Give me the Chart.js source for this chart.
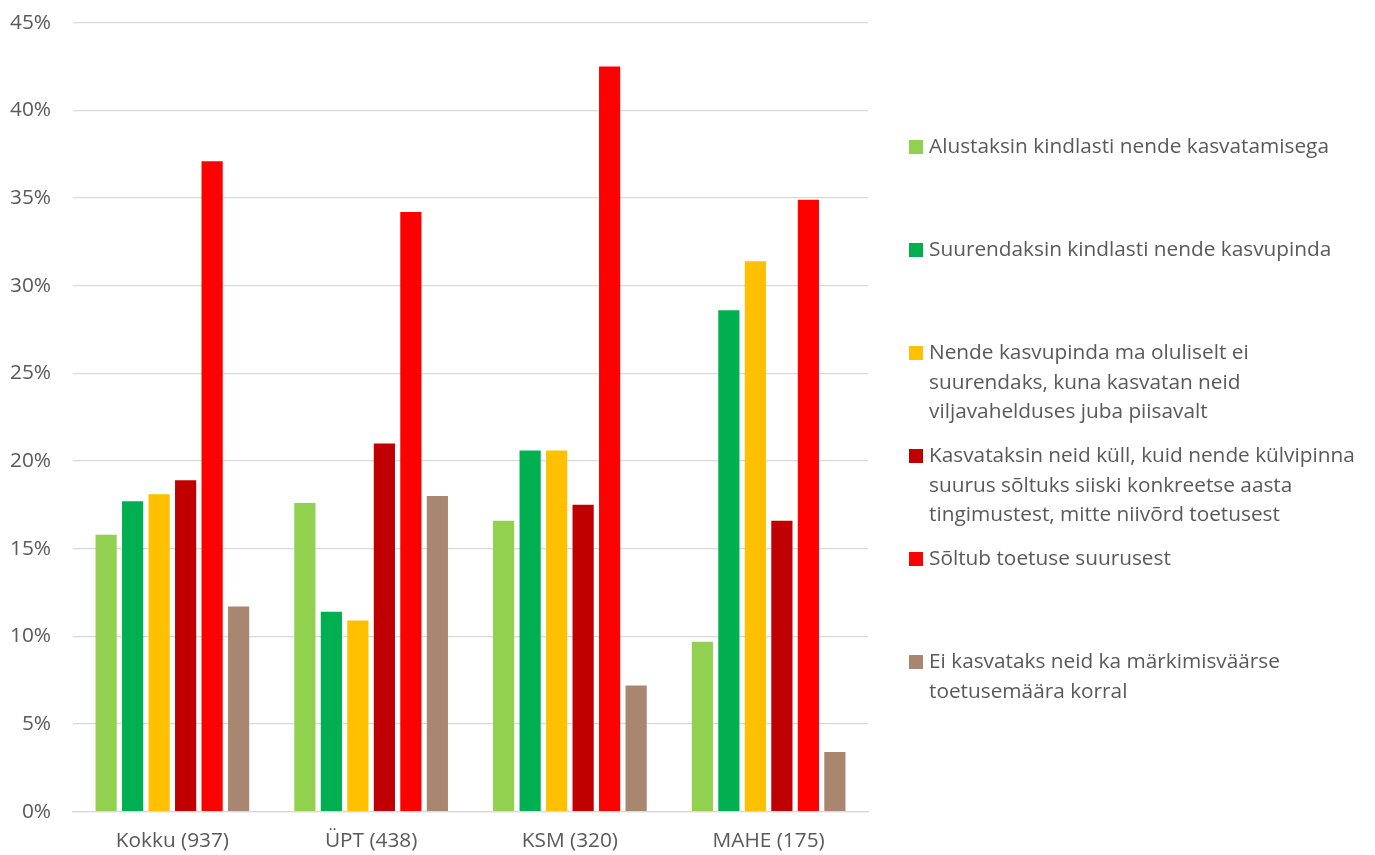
<!DOCTYPE html>
<html lang="et">
<head>
<meta charset="utf-8">
<title>Kasvatamise kavatsus sõltuvalt toetusest</title>
<script src="https://cdn.jsdelivr.net/npm/chart.js@4.4.1/dist/chart.umd.min.js"></script>
<style>
  html, body { margin: 0; padding: 0; background: #ffffff; }
  #wrap { width: 1375px; height: 855px; }
</style>
</head>
<body>
<div id="wrap"><canvas id="chart" width="1375" height="855"></canvas></div>
<script>
// Respondentide rühmad (vastajate arv sulgudes)
const categories = ['Kokku (937)', 'ÜPT (438)', 'KSM (320)', 'MAHE (175)'];

// Vastusevariandid, legendis ridadeks jaotatud
const seriesNames = [
  ['Alustaksin kindlasti nende kasvatamisega'],
  ['Suurendaksin kindlasti nende kasvupinda'],
  ['Nende kasvupinda ma oluliselt ei', 'suurendaks, kuna kasvatan neid', 'viljavahelduses juba piisavalt'],
  ['Kasvataksin neid küll, kuid nende külvipinna', 'suurus sõltuks siiski konkreetse aasta', 'tingimustest, mitte niivõrd toetusest'],
  ['Sõltub toetuse suurusest'],
  ['Ei kasvataks neid ka märkimisväärse', 'toetusemäära korral']
];

// Osakaalud protsentides, rühmade järjekorras
const alustaksin      = [15.8, 17.6, 16.6, 9.7];
const suurendaksin    = [17.7, 11.4, 20.6, 28.6];
const eiSuurendaks    = [18.1, 10.9, 20.6, 31.4];
const soltubAastast   = [18.9, 21.0, 17.5, 16.6];
const soltubToetusest = [37.1, 34.2, 42.5, 34.9];
const eiKasvataks     = [11.7, 18.0, 7.2, 3.4];

const seriesValues = [alustaksin, suurendaksin, eiSuurendaks, soltubAastast, soltubToetusest, eiKasvataks];
const seriesColors = ['#92D050', '#00B050', '#FFC000', '#C00000', '#FF0000', '#A98670'];

// Telje jaotised
const yTicks = [0, 5, 10, 15, 20, 25, 30, 35, 40, 45];

const FONT = '"Open Sans", "DejaVu Sans", sans-serif';
const FONT_SIZE = 20.8;
const TEXT = '#595959';
const GRID = '#D9D9D9';

// Parempoolne legend: iga kirje algab fikseeritud sammuga, pikad nimed mitmel real
const sideLegend = {
  id: 'sideLegend',
  afterDraw(chart) {
    const ctx = chart.ctx;
    const left = 909, box = 14, textX = 929;
    const firstY = 147, step = 103, lineH = 29.7;
    ctx.save();
    ctx.font = FONT_SIZE + 'px ' + FONT;
    ctx.textBaseline = 'middle';
    ctx.textAlign = 'left';
    chart.data.datasets.forEach((ds, i) => {
      const y = firstY + i * step;
      ctx.fillStyle = ds.backgroundColor;
      ctx.fillRect(left, y - box / 2, box, box);
      ctx.fillStyle = TEXT;
      ds.nameLines.forEach((line, k) => {
        ctx.fillText(line, textX, y + k * lineH);
      });
    });
    ctx.restore();
  }
};

const datasets = seriesNames.map((lines, i) => ({
  label: lines.join(' '),
  nameLines: lines,
  data: seriesValues[i],
  backgroundColor: seriesColors[i],
  borderWidth: 0,
  barPercentage: 0.8,
  categoryPercentage: 0.8
}));

new Chart(document.getElementById('chart'), {
  type: 'bar',
  data: { labels: categories, datasets },
  options: {
    responsive: false,
    animation: false,
    layout: { padding: { left: 10, top: 22.7, right: 507, bottom: 0 } },
    plugins: {
      legend: { display: false },
      tooltip: { enabled: false }
    },
    scales: {
      x: {
        grid: { display: false, drawTicks: false },
        border: { display: true, color: GRID, width: 1.3 },
        ticks: { color: TEXT, font: { family: FONT, size: FONT_SIZE }, padding: 17 },
        afterFit(axis) { axis.height = 43.3; }
      },
      y: {
        min: 0,
        max: 45,
        afterBuildTicks(axis) { axis.ticks = yTicks.map(v => ({ value: v })); },
        afterFit(axis) {
          axis.width = 63;
          axis.paddingTop = 0;
          axis.paddingBottom = 0;
        },
        grid: { color: GRID, lineWidth: 1.3, drawTicks: false },
        border: { display: false },
        ticks: {
          color: TEXT,
          font: { family: FONT, size: FONT_SIZE },
          padding: 22,
          callback: v => v + '%'
        }
      }
    }
  },
  plugins: [sideLegend]
});
</script>
</body>
</html>
